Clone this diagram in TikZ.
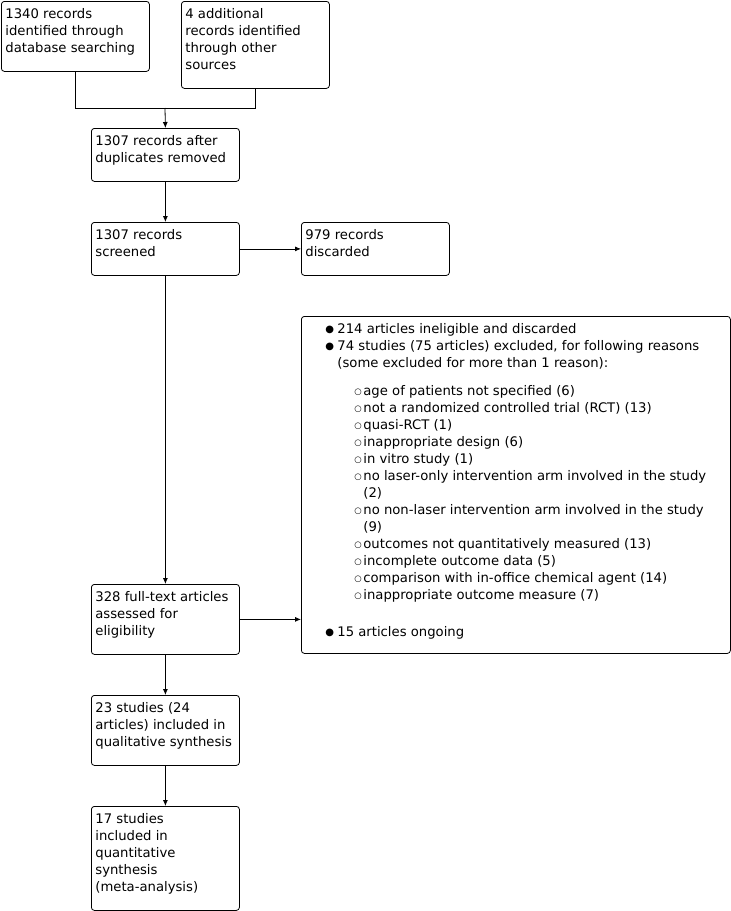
\documentclass[tikz,border=0pt]{standalone}
\usepackage{fontspec}
\setmainfont{DejaVu Sans}
\usetikzlibrary{arrows.meta}

% box text: fixed height, text at the top
\newcommand{\boxtext}[2]{\parbox[c][#1][t]{140pt}{\raggedright\strut#2}}
% bullets for the exclusion list
\newcommand{\fullbul}{\strut\makebox[12pt][l]{\raisebox{0.6pt}{\fontsize{10}{10}\selectfont ●}}}
\newcommand{\openbul}{\strut\makebox[9pt][l]{\raisebox{0.8pt}{\fontsize{8.5}{10}\selectfont ○}}}
\newcommand{\mainpt}{\par\leftskip=20pt\hangindent=12pt\hangafter=1\noindent\fullbul}
\newcommand{\reasonpt}{\par\leftskip=49pt\hangindent=9pt\hangafter=1\noindent\openbul}

\begin{document}
\begin{tikzpicture}[x=1pt, y=-1pt,
    box/.style={draw, line width=0.8pt, rounded corners=3pt, inner xsep=4pt, inner ysep=5pt,
        anchor=north west, font=\fontsize{13.2}{17}\selectfont},
    link/.style={line width=0.8pt},
    arr/.style={link, -{Latex[length=6pt,width=5pt]}}]
    \useasboundingbox (0,0) rectangle (731,911);

    % Identification
    \node[box] (db) at (1,1) {\boxtext{60pt}{1340 records\\identified through\\database searching}};
    \node[box] (other) at (181,1) {\boxtext{77pt}{4 additional\\records identified\\through other\\sources}};
    \coordinate (merge) at (165,108);

    % Screening
    \node[box] (dedup) at (91,128) {\boxtext{43pt}{1307 records after\\duplicates removed}};
    \node[box] (screen) at (91,222) {\boxtext{43pt}{1307 records\\screened}};
    \node[box] (discard) at (301,222) {\boxtext{43pt}{979 records\\discarded}};

    % Exclusions
    \node[box] (excl) at (301,316) {\parbox[c][327pt][t]{421pt}{
        \mainpt 214 articles ineligible and discarded
        \mainpt 74 studies (75 articles) excluded, for following reasons\newline
            (some excluded for more than 1 reason):
        \par\vspace{11pt}
        \reasonpt age of patients not specified (6)
        \reasonpt not a randomized controlled trial (RCT) (13)
        \reasonpt quasi-RCT (1)
        \reasonpt inappropriate design (6)
        \reasonpt in vitro study (1)
        \reasonpt no laser-only intervention arm involved in the study\newline (2)
        \reasonpt no non-laser intervention arm involved in the study\newline (9)
        \reasonpt outcomes not quantitatively measured (13)
        \reasonpt incomplete outcome data (5)
        \reasonpt comparison with in-office chemical agent (14)
        \reasonpt inappropriate outcome measure (7)
        \par\vspace{20pt}
        \mainpt 15 articles ongoing\par}};

    % Eligibility and inclusion
    \node[box] (fulltext) at (91,584) {\boxtext{60pt}{328 full-text articles\\assessed for\\eligibility}};
    \node[box] (qual) at (91,695) {\boxtext{60pt}{23 studies (24\\articles) included in\\qualitative synthesis}};
    \node[box] (quant) at (91,806) {\boxtext{94pt}{17 studies\\included in\\quantitative\\synthesis\\(meta-analysis)}};

    % Connectors
    \draw[link] (db.south) |- (merge);
    \draw[link] (other.south) |- (merge);
    \draw[arr] (merge) -- (dedup.north);
    \draw[arr] (dedup) -- (screen);
    \draw[arr] (screen) -- (discard);
    \draw[arr] (screen) -- (fulltext);
    \draw[arr] (fulltext.east) -- (fulltext.east -| excl.west);
    \draw[arr] (fulltext) -- (qual);
    \draw[arr] (qual) -- (quant);
\end{tikzpicture}
\end{document}
